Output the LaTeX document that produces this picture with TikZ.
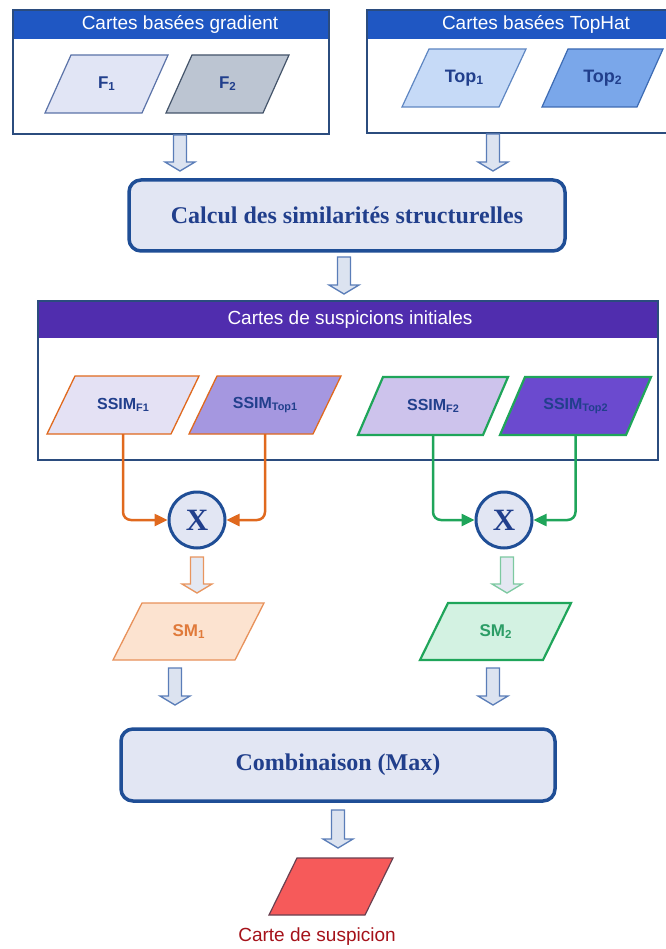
\documentclass[tikz,border=0pt]{standalone}
\usepackage{fontspec}
\setmainfont{Liberation Serif}
\newfontfamily\lsans{Liberation Sans}
\usetikzlibrary{arrows.meta,calc}
\definecolor{hblue}{HTML}{1F57C3}
\definecolor{hpurple}{HTML}{502DAE}
\definecolor{framec}{HTML}{2B4C7E}
\definecolor{bbord}{HTML}{1F4E96}
\definecolor{bfill}{HTML}{E2E6F3}
\definecolor{dblue}{HTML}{213F8C}
\definecolor{orng}{HTML}{E0691E}
\definecolor{grn}{HTML}{1FA55A}
\definecolor{arrblue}{HTML}{5A7DB8}
\definecolor{arrfill}{HTML}{DCE3F0}
\definecolor{fAfill}{HTML}{E1E5F5}\definecolor{fAdraw}{HTML}{5B73A8}
\definecolor{fBfill}{HTML}{BCC5D2}\definecolor{fBdraw}{HTML}{44546A}
\definecolor{tAfill}{HTML}{C6DAF7}\definecolor{tAdraw}{HTML}{5E86C2}
\definecolor{tBfill}{HTML}{7AA7EA}\definecolor{tBdraw}{HTML}{3D6BB3}
\definecolor{sAfill}{HTML}{E4E1F4}
\definecolor{sBfill}{HTML}{A597E0}
\definecolor{sCfill}{HTML}{CDC3EC}
\definecolor{sDfill}{HTML}{6B4ACF}
\definecolor{smAfill}{HTML}{FCE3D0}\definecolor{smAdraw}{HTML}{E8915A}\definecolor{smAtext}{HTML}{E07A3A}
\definecolor{smBfill}{HTML}{D3F2E2}\definecolor{smBtext}{HTML}{2C9D66}
\definecolor{redfill}{HTML}{F65A5A}\definecolor{reddraw}{HTML}{6A4050}
\definecolor{redtext}{HTML}{A5121A}
\definecolor{oarrdraw}{HTML}{E8955E}
\definecolor{garrdraw}{HTML}{7CC9A0}
\definecolor{smallfill}{HTML}{E4E8F2}

% subscript, a bit larger than \textsubscript
\newcommand\sbs[1]{\raisebox{-0.12em}{\scalebox{0.68}{#1}}}
% parallelogram: name, style, x bottom-left, y bottom, width, height, slant
\newcommand\para[7]{%
  \draw[#2] (#3,#4) -- (#3+#5,#4) -- (#3+#5+#7,#4-#6) -- (#3+#7,#4-#6) -- cycle;
  \coordinate (#1) at (#3+#5/2+#7/2,#4-#6/2);
  \coordinate (#1b) at (#3+#5/2+#7/2,#4);}
% hollow block arrow: x, y top, y tip, style
\newcommand\blkarrow[4]{%
  \draw[#4] (#1-6.5,#2) -- (#1+6.5,#2) -- (#1+6.5,#3-9) -- (#1+15,#3-9) -- (#1,#3)
    -- (#1-15,#3-9) -- (#1-6.5,#3-9) -- cycle;}

\tikzset{
  framebox/.style={draw=framec, line width=1.2pt},
  hdrtxt/.style={text=white, font=\lsans\fontsize{19}{19}\selectfont, inner sep=0},
  lbl/.style={text=dblue, font=\lsans\bfseries\fontsize{16}{16}\selectfont, inner sep=0},
  lblF/.style={text=dblue, font=\lsans\bfseries\fontsize{17}{17}\selectfont, inner sep=0},
  lblbig/.style={text=dblue, font=\lsans\bfseries\fontsize{18}{18}\selectfont, inner sep=0},
  bigbox/.style={draw=bbord, line width=3.5pt, fill=bfill, rounded corners=12pt, text=dblue,
    font=\bfseries\fontsize{24}{24}\selectfont},
  circ/.style={circle, draw=bbord, line width=3pt, fill=bfill, minimum size=56pt, inner sep=0,
    text=dblue, font=\bfseries\fontsize{31}{31}\selectfont},
  barrow/.style={draw=arrblue, line width=1.3pt, fill=arrfill},
  oarrow/.style={draw=oarrdraw, line width=1.3pt, fill=smallfill},
  garrow/.style={draw=garrdraw, line width=1.3pt, fill=smallfill},
  oconn/.style={draw=orng, line width=2.5pt, rounded corners=8pt, -{Triangle[length=13pt,width=12pt]}},
  gconn/.style={draw=grn, line width=2.5pt, rounded corners=8pt, -{Triangle[length=13pt,width=12pt]}},
}

\begin{document}
\begin{tikzpicture}[x=1pt,y=-1pt]
\useasboundingbox[fill=white] (0,0) rectangle (665,949);

% ---- top boxes
\draw[framebox, fill=white] (13,10) rectangle (329,134);
\fill[hblue] (13,10) rectangle (329,39);
\draw[framebox] (13,10) rectangle (329,134);
\node[hdrtxt] (hgrad) at (180,24.5) {Cartes basées gradient};

\draw[framebox, fill=white] (367,10) rectangle (670,133);
\fill[hblue] (367,10) rectangle (670,39);
\draw[framebox] (367,10) rectangle (670,133);
\node[hdrtxt] (htop) at (536,24.5) {Cartes basées TopHat};

\para{pF1}{draw=fAdraw, fill=fAfill, line width=1.2pt}{45}{113}{97}{58}{26}
\node[lblF] (f1) at (pF1) {F\sbs{1}};
\para{pF2}{draw=fBdraw, fill=fBfill, line width=1.2pt}{166}{113}{97}{58}{26}
\node[lblF] (f2) at (pF2) {F\sbs{2}};
\para{pT1}{draw=tAdraw, fill=tAfill, line width=1.2pt}{402}{107}{97}{58}{27}
\node[lblbig] (t1) at (pT1) {Top\sbs{1}};
\para{pT2}{draw=tBdraw, fill=tBfill, line width=1.2pt}{542}{107}{95}{58}{26}
\node[lblbig] (t2) at (pT2) {Top\sbs{2}};

\blkarrow{180}{135}{171}{barrow}
\blkarrow{493}{134}{171}{barrow}

% ---- structural similarity
\node[bigbox, minimum width=436pt, minimum height=71pt] (calc) at (347,215.5)
  {Calcul des similarités structurelles};
\blkarrow{344}{257}{294}{barrow}

% ---- initial suspicion maps
\draw[framebox, fill=white] (38,301) rectangle (658,460);
\fill[hpurple] (38,301) rectangle (658,338);
\draw[framebox] (38,301) rectangle (658,460);
\node[hdrtxt] (hsusp) at (350,319.5) {Cartes de suspicions initiales};

\para{pS1}{draw=orng, fill=sAfill, line width=1.3pt}{47}{434}{124}{58}{28}
\node[lbl] (s1) at (pS1) {SSIM\sbs{F1}};
\para{pS2}{draw=orng, fill=sBfill, line width=1.3pt}{189}{434}{124}{58}{28}
\node[lbl] (s2) at (pS2) {SSIM\sbs{Top1}};
\para{pS3}{draw=grn, fill=sCfill, line width=2.2pt}{358}{435}{125}{58}{25}
\node[lbl] (s3) at (pS3) {SSIM\sbs{F2}};
\para{pS4}{draw=grn, fill=sDfill, line width=2.2pt}{500}{435}{126}{58}{25}
\node[lbl] (s4) at (pS4) {SSIM\sbs{Top2}};

% ---- products
\node[circ] (c1) at (197,520) {X};
\node[circ] (c2) at (504,520) {X};
\draw[oconn] (pS1b) |- (c1.west);
\draw[oconn] (pS2b) |- (c1.east);
\draw[gconn] (pS3b) |- (c2.west);
\draw[gconn] (pS4b) |- (c2.east);

\blkarrow{197}{557}{593}{oarrow}
\blkarrow{507}{557}{593}{garrow}

\para{pM1}{draw=smAdraw, fill=smAfill, line width=1.3pt}{113}{660}{122}{57}{29}
\node[lblF, text=smAtext] (m1) at (pM1) {SM\sbs{1}};
\para{pM2}{draw=grn, fill=smBfill, line width=2.2pt}{420}{660}{123}{57}{28}
\node[lblF, text=smBtext] (m2) at (pM2) {SM\sbs{2}};

\blkarrow{175}{668}{705}{barrow}
\blkarrow{493}{668}{705}{barrow}

% ---- combination
\node[bigbox, minimum width=434pt, minimum height=72pt] (comb) at (338,765) {Combinaison (Max)};
\blkarrow{338}{810}{848}{barrow}

\para{pR}{draw=reddraw, fill=redfill, line width=1.2pt}{269}{915}{96}{57}{28}
\node[text=redtext, font=\lsans\fontsize{19}{19}\selectfont, inner sep=0] (res) at (317,937) {Carte de suspicion};
\end{tikzpicture}
\end{document}
